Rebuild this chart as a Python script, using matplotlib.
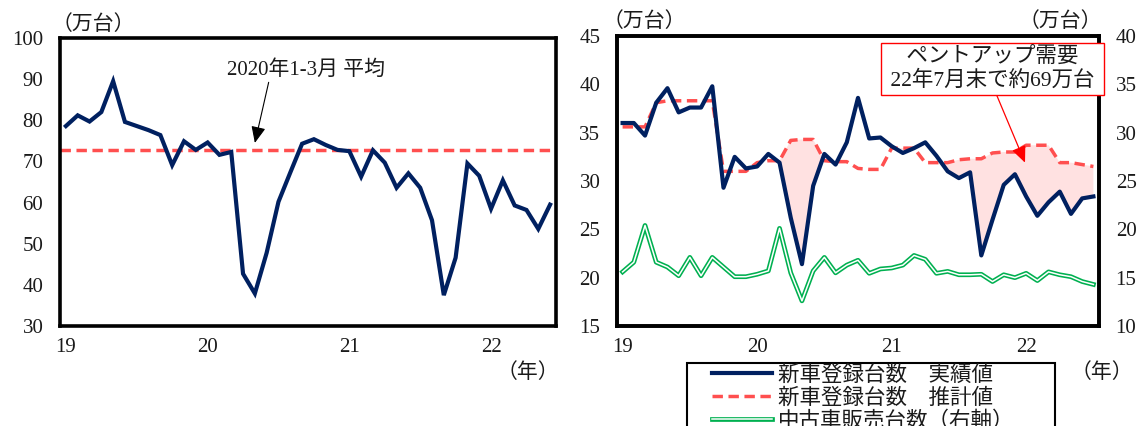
import numpy as np
import matplotlib
matplotlib.use("Agg")
import matplotlib.pyplot as plt
from matplotlib import patheffects as pe
from matplotlib.lines import Line2D
from matplotlib.patches import Rectangle

plt.rcParams["font.family"] = ["Liberation Serif", "Noto Sans CJK JP"]
plt.rcParams["font.size"] = 15
plt.rcParams["text.color"] = "#1a1a1a"

# ---- data -------------------------------------------------------------
# 新車登録台数（万台）, 2019年1月〜2022年6月
left_actual = [78.6, 81.2, 79.7, 82.0, 89.5, 79.6, 78.6, 77.6, 76.4, 69.1,
               74.9, 72.8, 74.6, 71.6, 72.3, 42.7, 37.9, 47.8, 60.2, 67.3,
               74.3, 75.4, 74.0, 72.8, 72.5, 66.3, 72.7, 69.7, 63.6, 67.1,
               63.6, 55.7, 37.5, 46.6, 69.5, 66.5, 58.5, 65.4, 59.3, 58.2,
               53.6, 59.5]

# 新車登録台数 実績値・推計値（万台）, 2019年1月〜2022年7月
new_actual = [36.0, 36.0, 34.7, 38.1, 39.6, 37.1, 37.6, 37.6, 39.8, 29.3,
              32.5, 31.3, 31.5, 32.8, 31.9, 26.2, 21.4, 29.5, 32.8, 31.7,
              34.0, 38.6, 34.4, 34.5, 33.6, 32.9, 33.4, 34.0, 32.6, 31.0,
              30.3, 30.9, 22.3, 26.0, 29.6, 30.7, 28.4, 26.4, 27.8, 28.9,
              26.6, 28.2, 28.4]
new_estimate = [35.6, 35.6, 35.6, 38.1, 38.3, 38.3, 38.3, 38.3, 38.3, 31.0,
                31.0, 31.0, 31.9, 32.1, 32.1, 34.2, 34.3, 34.3, 32.1, 32.0,
                32.0, 31.3, 31.2, 31.2, 33.4, 33.4, 33.4, 31.9, 31.9, 31.9,
                32.2, 32.3, 32.3, 32.9, 33.0, 33.0, 33.7, 33.7, 33.7, 31.9,
                31.9, 31.7, 31.5]
# 中古車販売台数（万台, 右軸）
used_sales = [15.6, 16.6, 20.4, 16.6, 16.1, 15.2, 17.1, 15.2, 17.1, 16.1,
              15.1, 15.1, 15.35, 15.7, 20.1, 15.5, 12.6, 15.7, 17.1, 15.5,
              16.3, 16.8, 15.45, 15.9, 16.0, 16.3, 17.3, 16.9, 15.45, 15.65,
              15.3, 15.3, 15.35, 14.6, 15.3, 15.0, 15.45, 14.7, 15.6, 15.3,
              15.1, 14.6, 14.3]

year_ticks = [0, 12, 24, 36]
year_labels = ["19", "20", "21", "22"]
fill_start = 14  # 2020年3月以降の不足分を塗る

NAVY = "#002060"
RED = "#FF4F4F"
GREEN = "#00B050"
PINK = "#FFE1E1"

W, H = 1144, 426
fig = plt.figure(figsize=(W / 100, H / 100), dpi=100)


def fx(px):
    return px / W


def fy(py):
    return 1 - py / H


def style_axes(ax):
    for s in ax.spines.values():
        s.set_linewidth(2.6)
        s.set_color("black")
    ax.tick_params(length=0, labelsize=15, colors="#1a1a1a")
    ax.tick_params(axis="x", pad=9)
    ax.tick_params(axis="y", pad=12)


# ---- left panel ---------------------------------------------------------
axl = fig.add_axes([fx(60), fy(326), fx(556) - fx(60), fy(38) - fy(326)])
xl = np.arange(len(left_actual))
avg = float(np.mean(left_actual[12:15]))
axl.axhline(avg, color=RED, lw=2.5, dashes=(3, 1.6))
axl.plot(xl, left_actual, color=NAVY, lw=3.0, solid_joinstyle="miter")
axl.set_xlim(-0.5, len(left_actual) - 0.5)
axl.set_ylim(30, 100)
axl.set_yticks(range(30, 101, 10))
axl.set_xticks(year_ticks)
axl.set_xticklabels(year_labels)
style_axes(axl)
axl.annotate("2020年1-3月 平均", xy=(16.0, 74.5), xytext=(20.3, 92.3),
             ha="center", va="center", fontsize=15,
             arrowprops=dict(arrowstyle="-|>,head_length=0.5,head_width=0.22",
                             mutation_scale=20, color="black", lw=0.8,
                             shrinkA=0, shrinkB=0, relpos=(0.27, 0.0)))
fig.text(fx(93), fy(25), "（万台）", ha="center", va="center", fontsize=15)
fig.text(fx(528), fy(373), "（年）", ha="center", va="center", fontsize=15)

# ---- right panel --------------------------------------------------------
axr = fig.add_axes([fx(617), fy(326), fx(1099) - fx(617), fy(36) - fy(326)])
xr = np.arange(len(new_actual))
act = np.array(new_actual)
est = np.array(new_estimate)
axr.fill_between(xr, act, est, where=(xr >= fill_start) & (act < est),
                 interpolate=True, color=PINK, lw=0, zorder=1)
axr.plot(xr, new_estimate, color=RED, lw=2.5, dashes=(3, 1.6), zorder=2)
axr.plot(xr, new_actual, color=NAVY, lw=3.0, zorder=3)
axr.set_xlim(-0.5, len(new_actual) - 0.5)
axr.set_ylim(15, 45)
axr.set_yticks(range(15, 46, 5))
axr.set_xticks(year_ticks)
axr.set_xticklabels(year_labels)
style_axes(axr)

ax2 = axr.twinx()
ax2.plot(xr, used_sales, color="white", lw=1.1, zorder=3,
         path_effects=[pe.Stroke(linewidth=3.4, foreground=GREEN), pe.Normal()])
ax2.set_ylim(10, 40)
ax2.set_yticks(range(10, 41, 5))
style_axes(ax2)

ax2.annotate(" ペントアップ需要 \n 22年7月末で約69万台 ", xy=(35.9, 26.9),
             xytext=(33.0, 36.6), ha="center", va="center", fontsize=15.5,
             linespacing=1.15,
             bbox=dict(boxstyle="square,pad=0.2", fc="white", ec="red", lw=1.0),
             arrowprops=dict(arrowstyle="-|>,head_length=0.5,head_width=0.22",
                             mutation_scale=20, color="red", lw=0.9,
                             shrinkA=0, shrinkB=0, relpos=(0.51, 0.0)),
             zorder=5)

fig.text(fx(644), fy(22), "（万台）", ha="center", va="center", fontsize=15)
fig.text(fx(1060), fy(22), "（万台）", ha="center", va="center", fontsize=15)
fig.text(fx(1102), fy(373), "（年）", ha="center", va="center", fontsize=15)

# ---- legend ---------------------------------------------------------------
handles = [
    Line2D([], [], color=NAVY, lw=3.0),
    Line2D([], [], color=RED, lw=2.5, dashes=(3, 1.6)),
    Line2D([], [], color="white", lw=1.1,
           path_effects=[pe.Stroke(linewidth=3.4, foreground=GREEN), pe.Normal()]),
]
labels = ["新車登録台数　実績値", "新車登録台数　推計値", "中古車販売台数（右軸）"]
fig.patches.append(Rectangle((fx(687), -0.2), fx(1055) - fx(687), fy(363) + 0.2,
                             transform=fig.transFigure, fill=False,
                             ec="black", lw=1.5))
fig.legend(handles, labels, loc="upper left",
           bbox_to_anchor=(fx(712), fy(365)), frameon=False,
           fontsize=15.5, handlelength=2.8, handletextpad=0.25,
           labelspacing=0.12, borderpad=0, borderaxespad=0)

fig.savefig("out.png", dpi=100)
